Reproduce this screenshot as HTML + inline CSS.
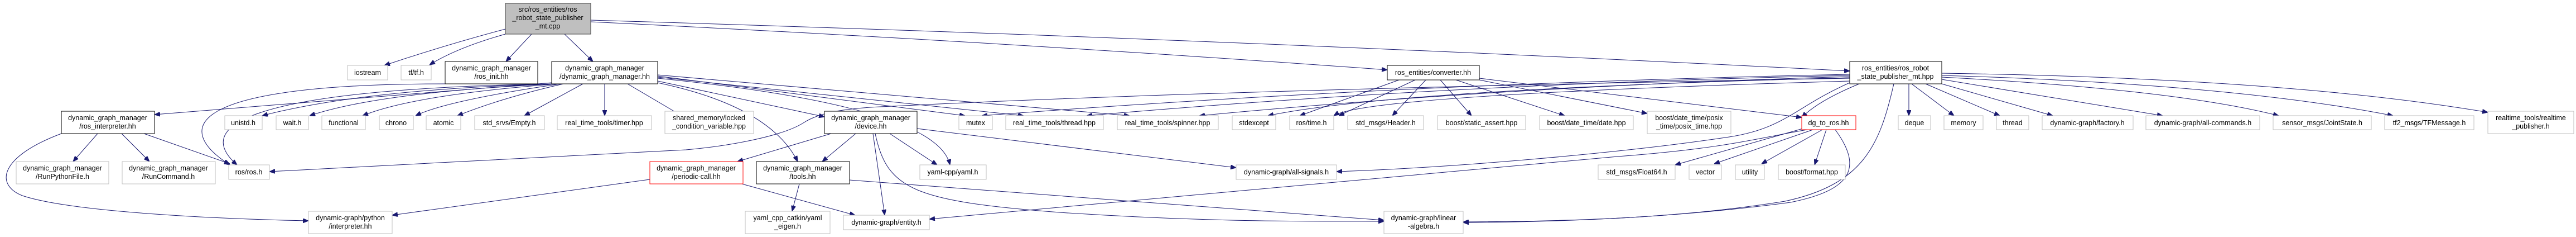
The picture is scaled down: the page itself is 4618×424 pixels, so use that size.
<!DOCTYPE html>
<html><head><meta charset="utf-8"><style>
html,body{margin:0;padding:0;background:#fff;}
svg{display:block;}
text{font-family:"Liberation Sans",sans-serif;font-size:12.5px;fill:#000;text-anchor:middle;}
.g{fill:#fff;stroke:#bfbfbf;stroke-width:1;}
.b{fill:#fff;stroke:#000;stroke-width:1;}
.r{fill:#fff;stroke:#ff0000;stroke-width:1;}
path{fill:none;stroke:#191970;stroke-width:1;}
</style></head><body>
<svg width="4618" height="424" viewBox="0 0 4618 424" xmlns="http://www.w3.org/2000/svg">
<defs><marker id="a" viewBox="0 0 10 8" refX="10" refY="4" markerWidth="10" markerHeight="8" markerUnits="userSpaceOnUse" orient="auto"><path d="M0,0 L10,4 L0,8 Z" style="fill:#191970;stroke:#191970"/></marker></defs>
<g marker-end="url(#a)">
<!-- root -->
<path d="M906,52 Q800,80 689,117"/>
<path d="M906,61 Q820,85 770,116"/>
<path d="M953,61 L907,110"/>
<path d="M1012,61 L1063,110"/>
<path d="M1059,36 Q2200,70 3316,127"/>
<path d="M1059,39 Q1800,75 2487,125"/>
<!-- dgm.hh -->
<path d="M989,148 Q600,180 277,205"/>
<path d="M992,150 Q650,160 470,207"/>
<path d="M995,150 Q680,165 555,207"/>
<path d="M1000,150 Q740,170 650,207"/>
<path d="M1005,150 Q800,180 745,207"/>
<path d="M1010,150 Q900,175 820,207"/>
<path d="M1045,150 L940,207"/>
<path d="M1084,150 L1084,207"/>
<path d="M1125,150 L1222,207"/>
<path d="M1179,145 L1478,209"/>
<path d="M1179,148 Q1380,190 1430,289"/>
<path d="M1179,136 L1730,207"/>
<path d="M1179,138 L1835,207"/>
<path d="M1179,134 L2025,207"/>
<path d="M1179,140 Q1680,190 1703,295"/>
<path d="M989,150 C420,160 350,230 425,295"/>
<path d="M798,150 C330,150 310,230 412,295"/>
<!-- ros_interpreter -->
<path d="M175,239 L131,289"/>
<path d="M218,239 L268,289"/>
<path d="M258,239 L412,293"/>
<path d="M110,239 C0,280 -10,330 40,350 C130,380 400,392 553,395"/>
<!-- device -->
<path d="M1490,239 L1322,289"/>
<path d="M1534,239 L1474,289"/>
<path d="M1565,239 L1586,385"/>
<path d="M1569,239 C1590,340 1640,360 1900,380 C2200,400 2400,395 2481,396"/>
<path d="M1595,239 L1680,295"/>
<path d="M1644,230 L2216,300"/>
<!-- periodic, tools -->
<path d="M1165,321 L703,385"/>
<path d="M1330,329 L1533,385"/>
<path d="M1433,329 L1420,378"/>
<path d="M1523,322 L2481,394"/>
<!-- converter -->
<path d="M2508,143 L2330,207"/>
<path d="M2537,143 L2400,207"/>
<path d="M2556,143 L2496,207"/>
<path d="M2582,143 L2638,207"/>
<path d="M2610,143 L2805,207"/>
<path d="M2652,143 L2953,203"/>
<path d="M2652,140 L3230,210"/>
<!-- hpp -->
<path d="M3316,133 Q2500,150 1760,207"/>
<path d="M3316,135 Q2600,150 1948,207"/>
<path d="M3316,137 Q2700,155 2150,207"/>
<path d="M3316,139 Q2500,160 2273,207"/>
<path d="M3316,145 Q2450,170 2391,207"/>
<path d="M3316,140 Q2200,160 1600,190 C1520,193 1470,200 1440,220 C1400,245 1300,262 1230,268 L483,307"/>
<path d="M3316,148 C3220,190 3200,230 3100,245 C2900,275 2600,300 2396,307"/>
<path d="M3333,150 Q3260,180 3230,210"/>
<path d="M3395,150 C3370,260 3340,330 3200,360 C3000,392 2800,396 2623,397"/>
<path d="M3422,150 L3422,207"/>
<path d="M3427,150 L3503,207"/>
<path d="M3452,150 L3585,207"/>
<path d="M3481,150 L3680,207"/>
<path d="M3481,142 L3877,207"/>
<path d="M3481,138 Q3900,160 4085,207"/>
<path d="M3481,135 Q4000,150 4290,207"/>
<path d="M3481,131 Q4100,140 4460,201"/>
<!-- dg_to_ros -->
<path d="M3240,232 C3160,245 3100,265 2900,280 L1666,392"/>
<path d="M3232,230 L3003,295"/>
<path d="M3250,232 L3073,293"/>
<path d="M3267,232 L3158,293"/>
<path d="M3274,232 L3253,295"/>
<path d="M3290,232 C3340,300 3320,340 3210,362 C3000,390 2800,397 2623,398"/>
</g>
<!-- nodes -->
<rect x="906" y="6" width="153" height="55" style="fill:#bfbfbf;stroke:#404040"/>
<text x="982" y="21">src/ros_entities/ros</text><text x="982" y="36">_robot_state_publisher</text><text x="982" y="51">_mt.cpp</text>
<g>
<rect class="g" x="623" y="117" width="72" height="26"/><text x="659" y="134">iostream</text>
<rect class="g" x="719" y="117" width="54" height="26"/><text x="746" y="134">tf/tf.h</text>
<rect class="b" x="798" y="110" width="166" height="40"/><text x="881" y="126">dynamic_graph_manager</text><text x="881" y="141">/ros_init.hh</text>
<rect class="b" x="989" y="110" width="190" height="40"/><text x="1084" y="126">dynamic_graph_manager</text><text x="1084" y="141">/dynamic_graph_manager.hh</text>
<rect class="b" x="2487" y="117" width="165" height="26"/><text x="2569" y="134">ros_entities/converter.hh</text>
<rect class="b" x="3316" y="110" width="165" height="40"/><text x="3398" y="126">ros_entities/ros_robot</text><text x="3398" y="141">_state_publisher_mt.hpp</text>

<rect class="b" x="110" y="199" width="167" height="40"/><text x="193" y="215">dynamic_graph_manager</text><text x="193" y="230">/ros_interpreter.hh</text>
<rect class="g" x="403" y="207" width="67" height="25"/><text x="436" y="224">unistd.h</text>
<rect class="g" x="495" y="207" width="58" height="25"/><text x="524" y="224">wait.h</text>
<rect class="g" x="577" y="207" width="78" height="25"/><text x="616" y="224">functional</text>
<rect class="g" x="680" y="207" width="61" height="25"/><text x="710" y="224">chrono</text>
<rect class="g" x="764" y="207" width="62" height="25"/><text x="795" y="224">atomic</text>
<rect class="g" x="851" y="207" width="125" height="25"/><text x="913" y="224">std_srvs/Empty.h</text>
<rect class="g" x="999" y="207" width="169" height="25"/><text x="1083" y="224">real_time_tools/timer.hpp</text>
<rect class="g" x="1192" y="199" width="159" height="40"/><text x="1271" y="215">shared_memory/locked</text><text x="1271" y="230">_condition_variable.hpp</text>
<rect class="b" x="1478" y="199" width="166" height="40"/><text x="1561" y="215">dynamic_graph_manager</text><text x="1561" y="230">/device.hh</text>
<rect class="g" x="1719" y="207" width="60" height="25"/><text x="1749" y="224">mutex</text>
<rect class="g" x="1803" y="207" width="175" height="25"/><text x="1890" y="224">real_time_tools/thread.hpp</text>
<rect class="g" x="2003" y="207" width="181" height="25"/><text x="2093" y="224">real_time_tools/spinner.hpp</text>
<rect class="g" x="2209" y="207" width="78" height="25"/><text x="2248" y="224">stdexcept</text>
<rect class="g" x="2312" y="207" width="79" height="25"/><text x="2351" y="224">ros/time.h</text>
<rect class="g" x="2416" y="207" width="136" height="25"/><text x="2484" y="224">std_msgs/Header.h</text>
<rect class="g" x="2577" y="207" width="158" height="25"/><text x="2656" y="224">boost/static_assert.hpp</text>
<rect class="g" x="2760" y="207" width="168" height="25"/><text x="2844" y="224">boost/date_time/date.hpp</text>
<rect class="g" x="2953" y="199" width="150" height="40"/><text x="3028" y="215">boost/date_time/posix</text><text x="3028" y="230">_time/posix_time.hpp</text>
<rect class="r" x="3230" y="207" width="97" height="25"/><text x="3278" y="224">dg_to_ros.hh</text>
<rect class="g" x="3403" y="207" width="58" height="25"/><text x="3432" y="224">deque</text>
<rect class="g" x="3485" y="207" width="70" height="25"/><text x="3520" y="224">memory</text>
<rect class="g" x="3579" y="207" width="58" height="25"/><text x="3608" y="224">thread</text>
<rect class="g" x="3661" y="207" width="163" height="25"/><text x="3742" y="224">dynamic-graph/factory.h</text>
<rect class="g" x="3847" y="207" width="204" height="25"/><text x="3949" y="224">dynamic-graph/all-commands.h</text>
<rect class="g" x="4075" y="207" width="176" height="25"/><text x="4163" y="224">sensor_msgs/JointState.h</text>
<rect class="g" x="4275" y="207" width="160" height="25"/><text x="4355" y="224">tf2_msgs/TFMessage.h</text>
<rect class="g" x="4460" y="199" width="154" height="40"/><text x="4537" y="215">realtime_tools/realtime</text><text x="4537" y="230">_publisher.h</text>

<rect class="g" x="29" y="289" width="166" height="40"/><text x="112" y="305">dynamic_graph_manager</text><text x="112" y="320">/RunPythonFile.h</text>
<rect class="g" x="219" y="289" width="167" height="40"/><text x="302" y="305">dynamic_graph_manager</text><text x="302" y="320">/RunCommand.h</text>
<rect class="g" x="410" y="295" width="73" height="26"/><text x="446" y="312">ros/ros.h</text>
<rect class="r" x="1165" y="289" width="167" height="40"/><text x="1248" y="305">dynamic_graph_manager</text><text x="1248" y="320">/periodic-call.hh</text>
<rect class="b" x="1356" y="289" width="167" height="40"/><text x="1439" y="305">dynamic_graph_manager</text><text x="1439" y="320">/tools.hh</text>
<rect class="g" x="1649" y="295" width="119" height="26"/><text x="1708" y="312">yaml-cpp/yaml.h</text>
<rect class="g" x="2216" y="295" width="180" height="26"/><text x="2306" y="312">dynamic-graph/all-signals.h</text>
<rect class="g" x="2865" y="295" width="138" height="26"/><text x="2934" y="312">std_msgs/Float64.h</text>
<rect class="g" x="3028" y="295" width="58" height="26"/><text x="3057" y="312">vector</text>
<rect class="g" x="3111" y="295" width="52" height="26"/><text x="3137" y="312">utility</text>
<rect class="g" x="3188" y="295" width="120" height="26"/><text x="3248" y="312">boost/format.hpp</text>

<rect class="g" x="553" y="378" width="150" height="40"/><text x="628" y="394">dynamic-graph/python</text><text x="628" y="409">/interpreter.hh</text>
<rect class="g" x="1336" y="378" width="152" height="40"/><text x="1412" y="394">yaml_cpp_catkin/yaml</text><text x="1412" y="409">_eigen.h</text>
<rect class="g" x="1512" y="385" width="154" height="26"/><text x="1589" y="402">dynamic-graph/entity.h</text>
<rect class="g" x="2481" y="378" width="142" height="40"/><text x="2552" y="394">dynamic-graph/linear</text><text x="2552" y="409">-algebra.h</text>
</g>
</svg>
</body></html>
